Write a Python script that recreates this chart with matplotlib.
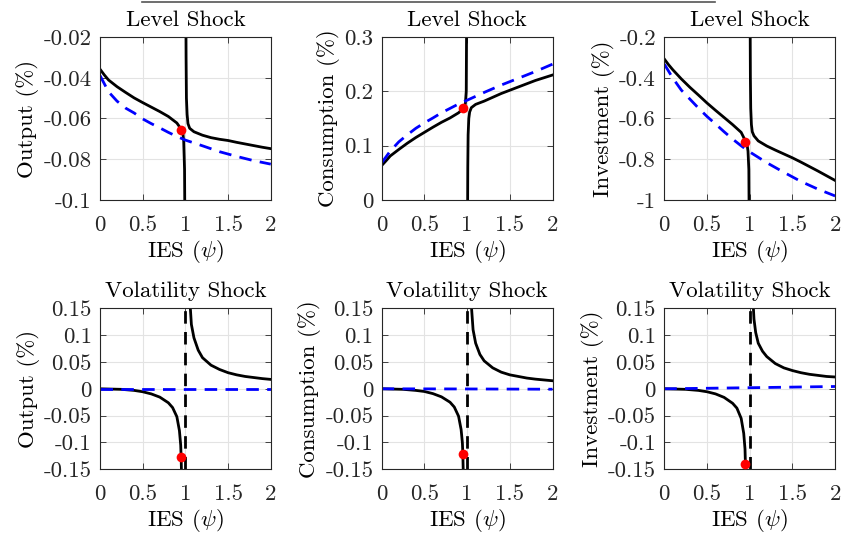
import matplotlib
matplotlib.use("Agg")
import matplotlib.pyplot as plt
from matplotlib.lines import Line2D

plt.rcParams['font.family'] = ['cmr10', 'DejaVu Serif']
plt.rcParams['mathtext.fontset'] = 'cm'
plt.rcParams['axes.unicode_minus'] = False

# ---- data ----
# level shock, black solid (left / right of the psi=1 singularity)
psi_lvl_left = [0, 0.05, 0.1, 0.2, 0.3, 0.4, 0.5, 0.6, 0.7, 0.8, 0.9, 0.95, 0.97, 0.98, 0.99, 0.995]
out_lvl_left = [-0.0358, -0.0386, -0.0411, -0.0444, -0.0472, -0.0499, -0.0522, -0.0544, -0.0566,
                -0.0590, -0.0622, -0.0652, -0.067, -0.071, -0.085, -0.12]
con_lvl_left = [0.0635, 0.072, 0.081, 0.093, 0.1045, 0.115, 0.1245, 0.134, 0.143, 0.151, 0.1605,
                0.168, 0.172, 0.178, 0.2, 0.35]
inv_lvl_left = [-0.308, -0.336, -0.361, -0.406, -0.447, -0.485, -0.524, -0.560, -0.595, -0.630,
                -0.668, -0.71, -0.73, -0.76, -0.85, -1.2]

psi_lvl_right = [1.005, 1.008, 1.012, 1.02, 1.03, 1.05, 1.1, 1.2, 1.3, 1.4, 1.5, 1.6, 1.7, 1.8, 1.9, 2.0]
out_lvl_right = [0.0, -0.03, -0.05, -0.058, -0.0625, -0.0648, -0.0665, -0.0682, -0.0694, -0.0702,
                 -0.0708, -0.0717, -0.0725, -0.0733, -0.0741, -0.0748]
con_lvl_right = [-0.05, 0.06, 0.12, 0.15, 0.162, 0.17, 0.176, 0.182, 0.189, 0.196, 0.202, 0.208,
                 0.214, 0.22, 0.225, 0.230]
inv_lvl_right = [-0.1, -0.4, -0.55, -0.63, -0.665, -0.685, -0.71, -0.735, -0.755, -0.774, -0.793,
                 -0.814, -0.836, -0.858, -0.881, -0.904]

# level shock, blue dashed
psi_lin = [0, 0.1, 0.2, 0.3, 0.4, 0.5, 0.6, 0.7, 0.8, 0.9, 1.0, 1.2, 1.4, 1.6, 1.8, 2.0]
out_lvl_lin = [-0.0389, -0.0469, -0.0515, -0.0549, -0.0573, -0.0602, -0.0625, -0.0646, -0.0668,
               -0.0688, -0.0706, -0.0734, -0.0763, -0.0786, -0.0807, -0.0824]
con_lvl_lin = [0.0685, 0.090, 0.107, 0.120, 0.132, 0.142, 0.151, 0.1605, 0.1686, 0.1767, 0.1836,
               0.198, 0.2116, 0.224, 0.2365, 0.250]
inv_lvl_lin = [-0.333, -0.402, -0.461, -0.505, -0.549, -0.590, -0.627, -0.665, -0.701, -0.734,
               -0.764, -0.817, -0.864, -0.909, -0.947, -0.980]

# volatility shock, black solid
psi_vol_left = [0, 0.25, 0.4, 0.5, 0.6, 0.7, 0.8, 0.85, 0.9, 0.93, 0.945, 0.95, 0.955, 0.96]
out_vol_left = [0, -0.001, -0.003, -0.0055, -0.0095, -0.0155, -0.026, -0.035, -0.052, -0.078,
                -0.105, -0.128, -0.16, -0.25]
con_vol_left = [0, -0.001, -0.003, -0.005, -0.009, -0.015, -0.025, -0.034, -0.051, -0.076,
                -0.101, -0.121, -0.155, -0.25]
inv_vol_left = [0, -0.001, -0.003, -0.0055, -0.0095, -0.016, -0.027, -0.036, -0.055, -0.083,
                -0.112, -0.141, -0.17, -0.25]

psi_vol_right = [1.04, 1.05, 1.07, 1.1, 1.15, 1.2, 1.3, 1.4, 1.5, 1.6, 1.7, 1.8, 1.9, 2.0]
out_vol_right = [0.25, 0.17, 0.12, 0.095, 0.072, 0.058, 0.044, 0.036, 0.030, 0.026, 0.023, 0.021,
                 0.019, 0.0175]
con_vol_right = [0.22, 0.155, 0.11, 0.085, 0.064, 0.052, 0.039, 0.031, 0.026, 0.023, 0.020, 0.018,
                 0.0165, 0.015]
inv_vol_right = [0.16, 0.13, 0.105, 0.085, 0.07, 0.06, 0.047, 0.039, 0.034, 0.030, 0.027, 0.025,
                 0.023, 0.022]

# volatility shock, blue dashed
psi_vol_lin = [0, 1.0, 2.0]
out_vol_lin = [0, 0, 0]
con_vol_lin = [0, -0.0003, -0.0008]
inv_vol_lin = [0, 0.002, 0.0043]

# red markers
dot_psi = 0.95
dot_lvl = [-0.0656, 0.169, -0.715]
dot_vol = [-0.128, -0.121, -0.141]
asymptote = 1.0

titles = ['Level Shock', 'Volatility Shock']
ylabels = ['Output (%)', 'Consumption (%)', 'Investment (%)']
xticks = [0, 0.5, 1, 1.5, 2]
xticklabels = ['0', '0.5', '1', '1.5', '2']
lvl_yticks = [[-0.1, -0.08, -0.06, -0.04, -0.02], [0, 0.1, 0.2, 0.3], [-1, -0.8, -0.6, -0.4, -0.2]]
lvl_yticklabels = [['-0.1', '-0.08', '-0.06', '-0.04', '-0.02'], ['0', '0.1', '0.2', '0.3'],
                   ['-1', '-0.8', '-0.6', '-0.4', '-0.2']]
vol_yticks = [-0.15, -0.1, -0.05, 0, 0.05, 0.1, 0.15]
vol_yticklabels = ['-0.15', '-0.1', '-0.05', '0', '0.05', '0.1', '0.15']

lvl_left = [out_lvl_left, con_lvl_left, inv_lvl_left]
lvl_right = [out_lvl_right, con_lvl_right, inv_lvl_right]
lvl_lin = [out_lvl_lin, con_lvl_lin, inv_lvl_lin]
vol_left = [out_vol_left, con_vol_left, inv_vol_left]
vol_right = [out_vol_right, con_vol_right, inv_vol_right]
vol_lin = [out_vol_lin, con_vol_lin, inv_vol_lin]

fig = plt.figure(figsize=(8.41, 5.34), dpi=100)

lefts = [100 / 841, 381.7 / 841, 664.3 / 841]
width = 170.8 / 841
bottoms = [1 - 200 / 534, 1 - 469.3 / 534]
heights = [163 / 534, 161 / 534]

fs = 16.5
edge = '#262626'
dash = (0, (4.5, 3))


def style(ax, yt, ytl, title, ylabel):
    ax.set_xlim(0, 2)
    ax.set_ylim(yt[0], yt[-1])
    ax.set_xticks(xticks)
    ax.set_xticklabels(xticklabels)
    ax.set_yticks(yt)
    ax.set_yticklabels(ytl)
    ax.grid(True, color='#e3e3e3', lw=0.8)
    ax.set_axisbelow(True)
    ax.tick_params(direction='in', length=4, width=0.6, top=True, right=True,
                   labelsize=fs, colors=edge)
    ax.tick_params(axis='x', pad=11)
    ax.tick_params(axis='y', pad=6)
    for s in ax.spines.values():
        s.set_color(edge)
        s.set_linewidth(0.8)
    ax.set_title(title, fontsize=fs, pad=8)
    ax.set_ylabel(ylabel, fontsize=fs, labelpad=3)
    ax.set_xlabel(r'IES ($\psi$)', fontsize=fs, labelpad=2)


for j in range(3):
    # top row: level shock
    ax = fig.add_axes([lefts[j], bottoms[0], width, heights[0]])
    ax.plot(psi_lvl_left, lvl_left[j], color='k', lw=2)
    ax.plot(psi_lvl_right, lvl_right[j], color='k', lw=2)
    ax.plot(psi_lin, lvl_lin[j], color='b', lw=2, linestyle=dash)
    ax.plot([dot_psi], [dot_lvl[j]], 'o', color='r', ms=7, mec='none', zorder=5)
    style(ax, lvl_yticks[j], lvl_yticklabels[j], titles[0], ylabels[j])

    # bottom row: volatility shock
    ax = fig.add_axes([lefts[j], bottoms[1], width, heights[1]])
    ax.plot(psi_vol_left, vol_left[j], color='k', lw=2)
    ax.plot(psi_vol_right, vol_right[j], color='k', lw=2)
    ax.axvline(asymptote, color='k', lw=2, linestyle=dash)
    ax.plot(psi_vol_lin, vol_lin[j], color='b', lw=2, linestyle=dash)
    ax.plot([dot_psi], [dot_vol[j]], 'o', color='r', ms=7, mec='none', zorder=5)
    style(ax, vol_yticks, vol_yticklabels, titles[1], ylabels[j])

# bottom edge of the (cropped) legend box
fig.add_artist(Line2D([142 / 841, 715 / 841], [1 - 1.5 / 534] * 2, color='#555555', lw=1.2))

fig.savefig('out.png', dpi=100)
